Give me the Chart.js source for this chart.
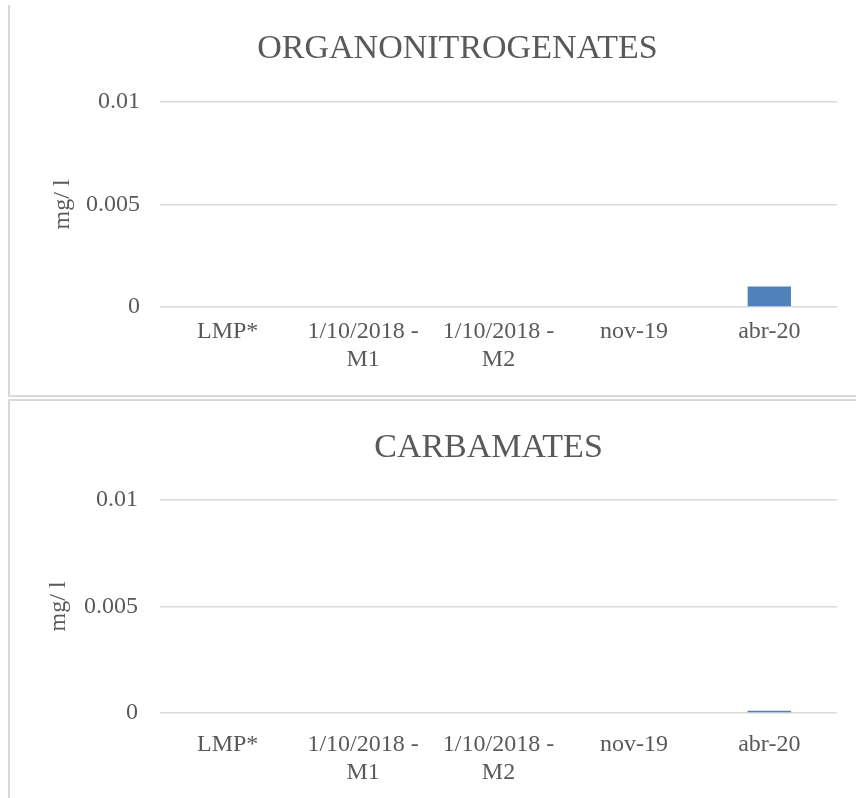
<!DOCTYPE html>
<html>
<head>
<meta charset="utf-8">
<script src="https://cdn.jsdelivr.net/npm/chart.js@4"></script>
<style>
  html, body { margin: 0; padding: 0; background: #fff; }
  body { width: 856px; height: 798px; position: relative; overflow: hidden; }
  .box { position: absolute; left: 10px; width: 846px; }
  .line { position: absolute; background: #d9d9d9; }
</style>
</head>
<body>
<div class="line" style="left:8px;top:5px;width:2px;height:390px;"></div>
<div class="line" style="left:8px;top:395px;width:848px;height:2px;"></div>
<div class="line" style="left:8px;top:399px;width:848px;height:2px;"></div>
<div class="line" style="left:8px;top:399px;width:2px;height:399px;"></div>
<div class="box" style="top:0;height:394px;"><canvas id="c1" width="846" height="394"></canvas></div>
<div class="box" style="top:401px;height:397px;"><canvas id="c2" width="846" height="397"></canvas></div>
<script>
const categories = ["LMP*", ["1/10/2018 -", "M1"], ["1/10/2018 -", "M2"], "nov-19", "abr-20"];
const organonitrogenates = [0, 0, 0, 0, 0.001];
const carbamates = [0, 0, 0, 0, 0.0001];
const yMin = 0;
const yMax = 0.01;
const yStep = 0.005;

const TEXT = "#595959";
const GRID = "#d9d9d9";
const FONT = "Liberation Serif";

// moves the built-in title sideways, the original isn't centred on the canvas
const shiftTitle = {
  id: "shiftTitle",
  afterLayout(chart, args, opts) {
    const t = chart.titleBlock;
    if (t && opts.dx) {
      t.left += opts.dx;
      t.right += opts.dx;
    }
  },
};

function makeChart(id, title, values, g) {
  return new Chart(document.getElementById(id), {
    type: "bar",
    data: {
      labels: categories,
      datasets: [{ label: title, data: values, backgroundColor: "#4f81bd", categoryPercentage: 1, barPercentage: 0.32 }],
    },
    plugins: [shiftTitle],
    options: {
      responsive: false,
      animation: false,
      layout: { padding: { left: 0, right: 19, top: 0, bottom: 0 } },
      plugins: {
        legend: { display: false },
        tooltip: { enabled: false },
        shiftTitle: { dx: g.titleDx },
        title: {
          display: true,
          text: title,
          color: TEXT,
          font: { family: FONT, size: 34, weight: "normal", lineHeight: 1.2 },
          padding: { top: g.titleTop, bottom: g.titleBottom },
        },
      },
      scales: {
        x: {
          grid: { display: false },
          border: { display: false },
          ticks: { color: TEXT, font: { family: FONT, size: 24, lineHeight: 1.15 }, padding: g.xPad, maxRotation: 0, autoSkip: false },
          afterFit: (s) => { s.height = g.xHeight; },
        },
        y: {
          min: yMin,
          max: yMax,
          grid: { color: GRID, lineWidth: 1.5, drawTicks: false },
          border: { display: false },
          ticks: {
            stepSize: yStep,
            color: TEXT,
            padding: g.yPad,
            font: { family: FONT, size: 24 },
            callback: (v) => String(Number(v.toFixed(4))),
          },
          title: {
            display: true,
            text: "mg/ l",
            color: TEXT,
            font: { family: FONT, size: 24, lineHeight: 1.2 },
            padding: { top: g.yTitlePad, bottom: 0 },
          },
          afterFit: (s) => { s.width = 150; },
        },
      },
    },
  });
}

makeChart("c1", "ORGANONITROGENATES", organonitrogenates, {
  titleDx: 34, titleTop: 29, titleBottom: 32, xPad: 3, xHeight: 87, yPad: 20, yTitlePad: 38,
});
makeChart("c2", "CARBAMATES", carbamates, {
  titleDx: 65, titleTop: 27, titleBottom: 31, xPad: 10, xHeight: 85, yPad: 22, yTitlePad: 34,
});
</script>
</body>
</html>
